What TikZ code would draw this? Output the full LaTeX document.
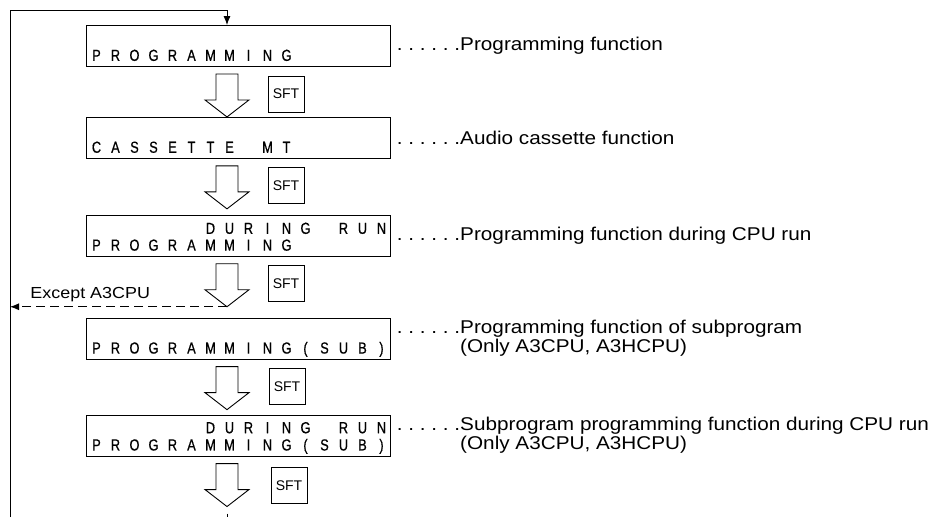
\documentclass[tikz,border=0pt]{standalone}
\usepackage{fontspec}
\setmainfont{Liberation Sans}
\newfontfamily\lcdfont{Liberation Sans}[FakeStretch=0.8, FakeBold=0.6]
\newfontfamily\notefont{Liberation Sans}[FakeStretch=1.12]
\usepackage{tikz}
\usetikzlibrary{arrows.meta, positioning, calc}

% one cell of the 16 character display, * is an empty cell
\newcommand\lcdcell[1]{\makebox[19pt]{\ifx*#1\else#1\fi}}
\def\lcdscan#1{\ifx\relax#1\else\lcdcell{#1}\expandafter\lcdscan\fi}
\newcommand\lcdline[1]{\hbox to 304pt{\strut\kern1pt\lcdscan#1\relax\hfil}}
\newcommand\lcd[2]{\vbox to 41pt{\vfill\lcdline{#1}\lcdline{#2}\vskip 1pt}}
\newcommand\dotlead{.\ .\ .\ .\ .\ .}

\begin{document}
\begin{tikzpicture}[x=1pt, y=-1pt, >={Latex[length=9pt, width=7pt]}, line width=0.9pt]
    \tikzstyle{display} = [rectangle, draw=black, inner sep=0pt, minimum width=304pt, minimum height=41pt, font=\lcdfont\fontsize{16}{15.5}\selectfont]
    \tikzstyle{sftkey} = [rectangle, draw=black, inner sep=0pt, minimum width=36pt, minimum height=36pt, font=\fontsize{14}{16}\selectfont]
    \tikzstyle{note} = [align=left, inner sep=0pt, font=\notefont\fontsize{18.5}{19}\selectfont]
    \tikzset{hollow arrow/.pic={
        \draw (-11,0) -- (11,0) -- (11,26) -- (22,26) -- (0,43) -- (-22,26) -- (-11,26) -- cycle;
        \coordinate (-tip) at (0,43);}}

    \useasboundingbox (0,0) rectangle (948,517);

    % Display screens, top to bottom
    \node (b1) [display] at (238,46) {\lcd{}{PROGRAMMING}};
    \node (b2) [display, below=50pt of b1] {\lcd{}{CASSETTE*MT}};
    \node (b3) [display, below=56pt of b2] {\lcd{******DURING*RUN}{PROGRAMMING}};
    \node (b4) [display, below=61pt of b3] {\lcd{}{PROGRAMMING(SUB)}};
    \node (b5) [display, below=55pt of b4] {\lcd{******DURING*RUN}{PROGRAMMING(SUB)}};

    % Shift arrows with the SFT key
    \coordinate (ax) at (227,0);
    \pic (a1) at ($(b1.south -| ax)+(0,7)$) {hollow arrow};
    \pic (a2) at ($(b2.south -| ax)+(0,7)$) {hollow arrow};
    \pic (a3) at ($(b3.south -| ax)+(0,7)$) {hollow arrow};
    \pic (a4) at ($(b4.south -| ax)+(0,7)$) {hollow arrow};
    \pic (a5) at ($(b5.south -| ax)+(0,7)$) {hollow arrow};
    \node (s1) [sftkey] at ($(a1-tip)+(59,-23)$) {SFT};
    \node (s2) [sftkey] at ($(a2-tip)+(59,-23)$) {SFT};
    \node (s3) [sftkey] at ($(a3-tip)+(59,-23)$) {SFT};
    \node (s4) [sftkey] at ($(a4-tip)+(60,-23)$) {SFT};
    \node (s5) [sftkey] at ($(a5-tip)+(62,-21)$) {SFT};

    % Notes on the right
    \node (n1) [note, right=6pt of b1] {\dotlead Programming function};
    \node (n2) [note, right=6pt of b2] {\dotlead Audio cassette function};
    \node (n3) [note, right=6pt of b3] {\dotlead Programming function during CPU run};
    \node (n4) [note, right=6pt of b4] {\dotlead Programming function of subprogram\\\phantom{\dotlead}(Only A3CPU, A3HCPU)};
    \node (n5) [note, right=6pt of b5] {\dotlead Subprogram programming function during CPU run\\\phantom{\dotlead}(Only A3CPU, A3HCPU)};

    % Return line to the first screen
    \coordinate (looptop) at (227,10);
    \coordinate (loopbot) at (10,517);
    \draw[->] (loopbot) |- (looptop) -- (b1.north -| looptop);
    \draw ($(a5-tip)+(0,7)$) -- (a5-tip |- loopbot);

    % Skip of the subprogram screens
    \draw[->, dash pattern=on 9pt off 5pt] (a3-tip) -- (a3-tip -| loopbot);
    \node (skip) [anchor=base west, inner sep=0pt, font=\notefont\fontsize{16}{19}\selectfont] at ($(a3-tip -| loopbot)+(20,-8)$) {Except A3CPU};
\end{tikzpicture}
\end{document}
